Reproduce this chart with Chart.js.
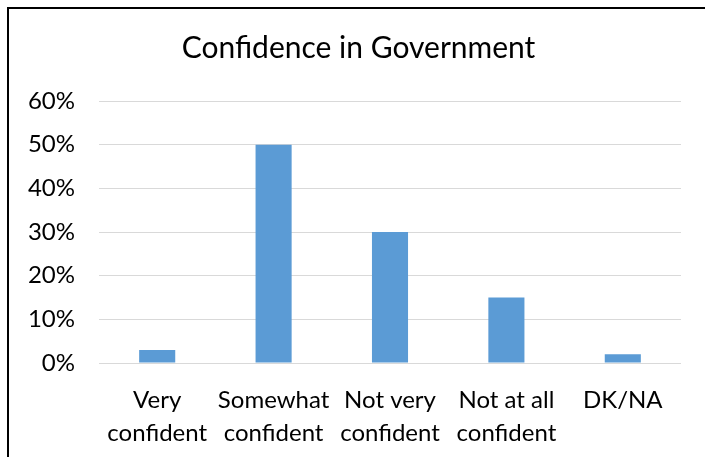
<!DOCTYPE html>
<html>
<head>
<meta charset="utf-8">
<script src="https://cdn.jsdelivr.net/npm/chart.js@4"></script>
<style>
    html, body { margin: 0; padding: 0; background: #fff; overflow: hidden; }
    #wrap { position: absolute; left: 0; top: 0; width: 705px; height: 457px; }
    #frame { position: absolute; left: 7px; top: 7px; width: 800px; height: 600px; border: 2px solid #000; pointer-events: none; }
</style>
</head>
<body>
<div id="wrap"><canvas id="confChart"></canvas></div>
<div id="frame"></div>
<script>
const categories = [['Very', 'confident'], ['Somewhat', 'confident'], ['Not very', 'confident'], ['Not at all', 'confident'], 'DK/NA'];
const shares = [3, 50, 30, 15, 2];
const yTicks = [0, 10, 20, 30, 40, 50, 60];

document.addEventListener('DOMContentLoaded', () => {
    const ctx = document.getElementById('confChart');
    const fontFamily = 'Lato, "Open Sans", sans-serif';

    new Chart(ctx, {
        type: 'bar',
        data: {
            labels: categories,
            datasets: [{
                label: 'Confidence',
                data: shares,
                backgroundColor: '#5b9bd5',
                borderWidth: 0,
                barPercentage: 0.31,
                categoryPercentage: 1
            }]
        },
        options: {
            responsive: true,
            maintainAspectRatio: false,
            animation: false,
            layout: {
                padding: { left: 12, right: 0, top: 30, bottom: 0 }
            },
            plugins: {
                legend: { display: false },
                tooltip: { enabled: false },
                title: {
                    display: true,
                    text: 'Confidence in Government',
                    color: '#000',
                    font: { family: fontFamily, size: 30, weight: 'normal' },
                    padding: { top: 0, bottom: 35 }
                }
            },
            scales: {
                x: {
                    grid: { display: false },
                    border: { display: false },
                    ticks: {
                        color: '#000',
                        maxRotation: 0,
                        autoSkip: false,
                        padding: 12,
                        font: { family: fontFamily, size: 24, lineHeight: 1.4 }
                    },
                    afterFit: (scale) => { scale.height = 94; }
                },
                y: {
                    min: 0,
                    max: 60,
                    afterBuildTicks: (scale) => {
                        scale.ticks = yTicks.map(v => ({ value: v }));
                    },
                    grid: { color: '#d9d9d9', lineWidth: 1, drawTicks: false },
                    border: { display: false },
                    ticks: {
                        color: '#000',
                        padding: 24,
                        font: { family: fontFamily, size: 24 },
                        callback: (v) => v + '%'
                    },
                    afterFit: (scale) => { scale.width = 87; }
                },
                // empty right axis, keeps the right margin inside the frame
                yRight: {
                    position: 'right',
                    min: 0,
                    max: 60,
                    grid: { display: false },
                    border: { display: false },
                    ticks: { display: false },
                    afterFit: (scale) => { scale.width = 24; }
                }
            }
        }
    });
});
</script>
</body>
</html>
